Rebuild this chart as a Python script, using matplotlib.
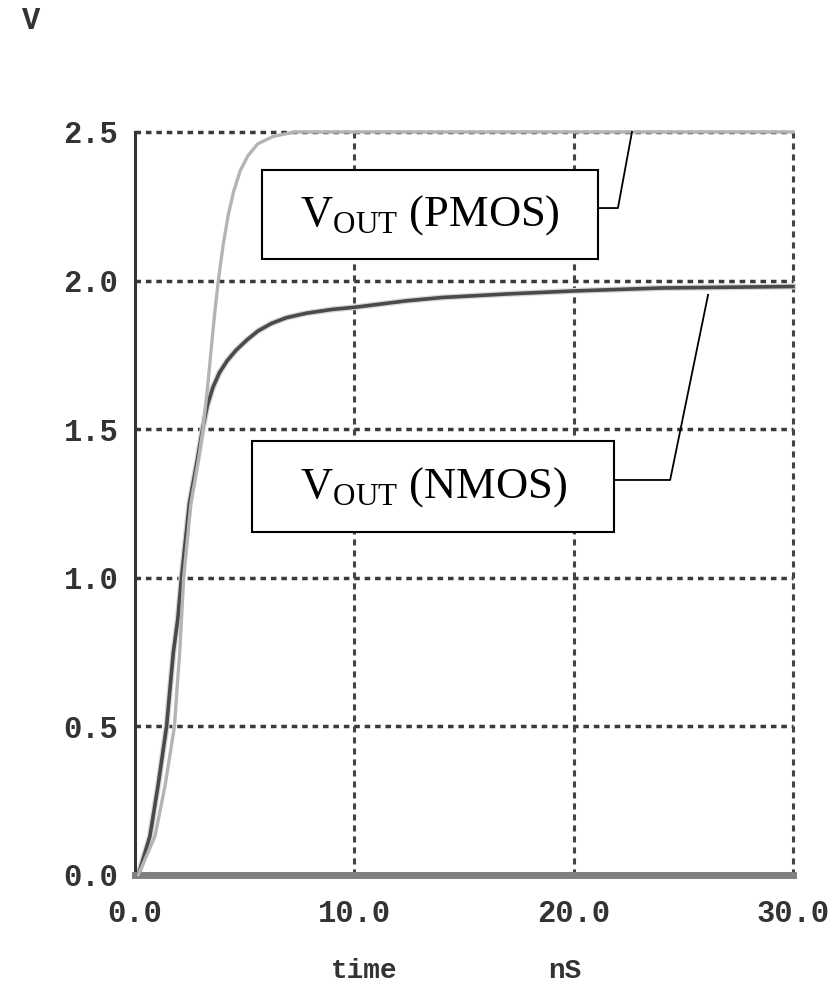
import matplotlib
matplotlib.use("Agg")
import matplotlib.pyplot as plt
from matplotlib.patches import Rectangle

# transient response, values
t_pmos = [0.15, 0.91, 1.37, 1.8, 1.92, 2.04, 2.12, 2.22, 2.55, 2.9, 3.1, 3.33,
          3.45, 3.62, 3.8, 4.02, 4.25, 4.5, 4.8, 5.15, 5.6, 6.3, 7.3, 30.0]
v_pmos = [0.0, 0.13, 0.30, 0.50, 0.63, 0.75, 0.86, 1.0, 1.25, 1.4, 1.5, 1.656,
          1.75, 1.88, 2.0, 2.12, 2.22, 2.3, 2.37, 2.42, 2.46, 2.485, 2.5, 2.5]

t_nmos = [0.15, 0.68, 1.05, 1.44, 1.6, 1.75, 1.95, 2.12, 2.48, 2.85, 3.08, 3.3,
          3.55, 3.85, 4.2, 4.6, 5.1, 5.6, 6.2, 6.9, 7.8, 9.0, 10.0, 12.4, 14.0,
          17.0, 20.0, 24.0, 30.0]
v_nmos = [0.0, 0.13, 0.30, 0.50, 0.63, 0.75, 0.86, 1.0, 1.25, 1.4, 1.5, 1.58,
          1.64, 1.69, 1.73, 1.765, 1.80, 1.83, 1.855, 1.875, 1.89, 1.903, 1.91,
          1.932, 1.943, 1.955, 1.965, 1.975, 1.98]

x_ticks = [0, 10, 20, 30]
x_labels = ["0.0", "10.0", "20.0", "30.0"]
y_ticks = [0, 0.5, 1.0, 1.5, 2.0, 2.5]
y_labels = ["0.0", "0.5", "1.0", "1.5", "2.0", "2.5"]

plt.rcParams["mathtext.fontset"] = "custom"
plt.rcParams["mathtext.rm"] = "Liberation Serif"

fig = plt.figure(figsize=(8.4, 9.84), dpi=100)
ax = fig.add_axes([0.1607, 0.1108, 0.7833, 0.7551])
ax.set_xlim(0, 30)
ax.set_ylim(0, 2.5)

# dotted grid, edges included
for y in y_ticks[1:]:
  ax.axhline(y, color="#3a3a3a", lw=2.5, ls=(0, (1.6, 1.4)), clip_on=False, zorder=1)
for x in x_ticks[1:]:
  ax.axvline(x, color="#444444", lw=2.2, ls=(0, (2.0, 1.6)), clip_on=False, zorder=1)

ax.plot(t_nmos, v_nmos, color="#d8d8d8", lw=4.4, clip_on=False, zorder=2)
ax.plot(t_nmos, v_nmos, color="#4a4a4a", lw=2.6, clip_on=False, zorder=3)
ax.plot(t_pmos, v_pmos, color="#b4b4b4", lw=2.4, clip_on=False, zorder=3)

for sp in ["top", "right"]:
  ax.spines[sp].set_visible(False)
ax.spines["left"].set_color("#333333")
ax.spines["left"].set_linewidth(2.2)
ax.spines["bottom"].set_color("#808080")
ax.spines["bottom"].set_linewidth(5)

tick_font = dict(family="Liberation Mono", weight="bold", size=22, color="#333333")
ax.set_xticks(x_ticks)
ax.set_xticklabels(x_labels, **tick_font)
ax.set_yticks(y_ticks)
ax.set_yticklabels(y_labels, **tick_font)
ax.tick_params(axis="x", length=0, pad=17)
ax.tick_params(axis="y", length=0, pad=12)

fig.text(31/840, 1 - 21/984, "V", ha="center", va="center", **tick_font)
fig.text(364/840, 1 - 971/984, "time", ha="center", va="center",
         family="Liberation Mono", weight="bold", size=20, color="#333333")
fig.text(565/840, 1 - 971/984, "nS", ha="center", va="center",
         family="Liberation Mono", weight="bold", size=20, color="#333333")

# labelled boxes with leader lines
ax.add_patch(Rectangle((5.79, 2.073), 15.32, 0.299, facecolor="white",
                       edgecolor="black", lw=1.5, zorder=5, clip_on=False))
ax.text(13.45, 2.222, r"$\mathrm{V}_{\mathrm{OUT}}$ (PMOS)", family="Liberation Serif",
        fontsize=32, ha="center", va="center", zorder=6)
ax.plot([21.11, 22.02, 22.66], [2.244, 2.244, 2.5], color="black", lw=1.3, zorder=4, clip_on=False)

ax.add_patch(Rectangle((5.34, 1.154), 16.5, 0.306, facecolor="white",
                       edgecolor="black", lw=1.5, zorder=5, clip_on=False))
ax.text(13.6, 1.307, r"$\mathrm{V}_{\mathrm{OUT}}$ (NMOS)", family="Liberation Serif",
        fontsize=32, ha="center", va="center", zorder=6)
ax.plot([21.84, 24.40, 26.13], [1.329, 1.329, 1.952], color="black", lw=1.3, zorder=4, clip_on=False)

fig.savefig("out.png", dpi=100, facecolor="white")
